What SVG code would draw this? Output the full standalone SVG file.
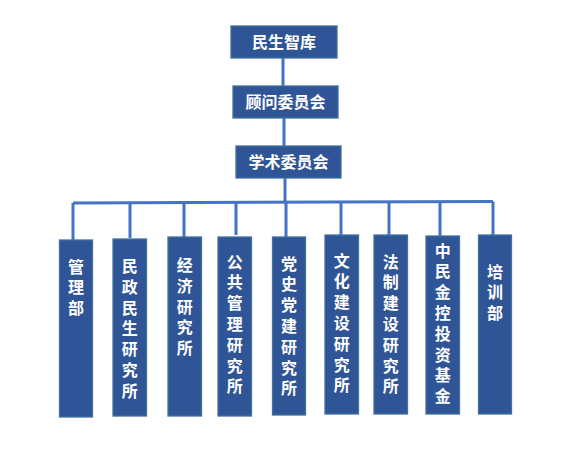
<svg xmlns="http://www.w3.org/2000/svg" width="569" height="450" viewBox="0 0 569 450">
<style>
.box{fill:#2F5597;stroke:#41719C;stroke-width:1.3}
.t{fill:#FFFFFF;font-family:"Noto Sans CJK SC","Noto Sans",sans-serif;font-size:16px;font-weight:bold;text-anchor:middle}
.v{fill:#FFFFFF;font-family:"Noto Sans CJK SC","Noto Sans",sans-serif;font-size:16px;font-weight:bold;writing-mode:vertical-rl;text-orientation:upright;letter-spacing:4.8px}
.ln{stroke:#4472C4;stroke-width:3;fill:none}
</style>
<rect width="569" height="450" fill="#FFFFFF"/>
<g id="connectors">
<path class="ln" d="M283,58 V86 M284,118 V146 M285,178 V203"/>
<path class="ln" d="M73,203 L493,201.5"/>
<path class="ln" d="M73,203 V240 M130,203 V238 M184,202.5 V237 M236,202.5 V235 M286,202 V237 M341,202 V235 M389,202 V235 M440,201.5 V236 M493,201.5 V235"/>
</g>
<g id="n1"><rect class="box" x="231" y="26" width="106" height="32"/><text class="t" x="284" y="48">民生智库</text></g>
<g id="n2"><rect class="box" x="233" y="86" width="105" height="32"/><text class="t" x="285.5" y="108">顾问委员会</text></g>
<g id="n3"><rect class="box" x="236" y="146" width="105" height="32"/><text class="t" x="288.5" y="168">学术委员会</text></g>
<g id="b1"><rect class="box" x="59.5" y="240" width="33" height="177"/><text class="v" x="76" y="258.5">管理部</text></g>
<g id="b2"><rect class="box" x="113" y="239" width="33.5" height="177"/><text class="v" x="129.7" y="258">民政民生研究所</text></g>
<g id="b3"><rect class="box" x="168" y="237" width="33.5" height="179"/><text class="v" x="184.7" y="257">经济研究所</text></g>
<g id="b4"><rect class="box" x="218" y="237" width="33.5" height="179"/><text class="v" x="234.7" y="253.5">公共管理研究所</text></g>
<g id="b5"><rect class="box" x="272.5" y="237" width="33" height="178"/><text class="v" x="289" y="255.5">党史党建研究所</text></g>
<g id="b6"><rect class="box" x="325" y="235" width="33.5" height="179"/><text class="v" x="341.7" y="252.5">文化建设研究所</text></g>
<g id="b7"><rect class="box" x="374" y="235" width="33.5" height="179"/><text class="v" x="390.7" y="253.5">法制建设研究所</text></g>
<g id="b8"><rect class="box" x="426" y="236" width="33.5" height="178"/><text class="v" x="442.7" y="242.5">中民金控投资基金</text></g>
<g id="b9"><rect class="box" x="478.5" y="235" width="33" height="179"/><text class="v" x="495" y="263.5">培训部</text></g>
</svg>
